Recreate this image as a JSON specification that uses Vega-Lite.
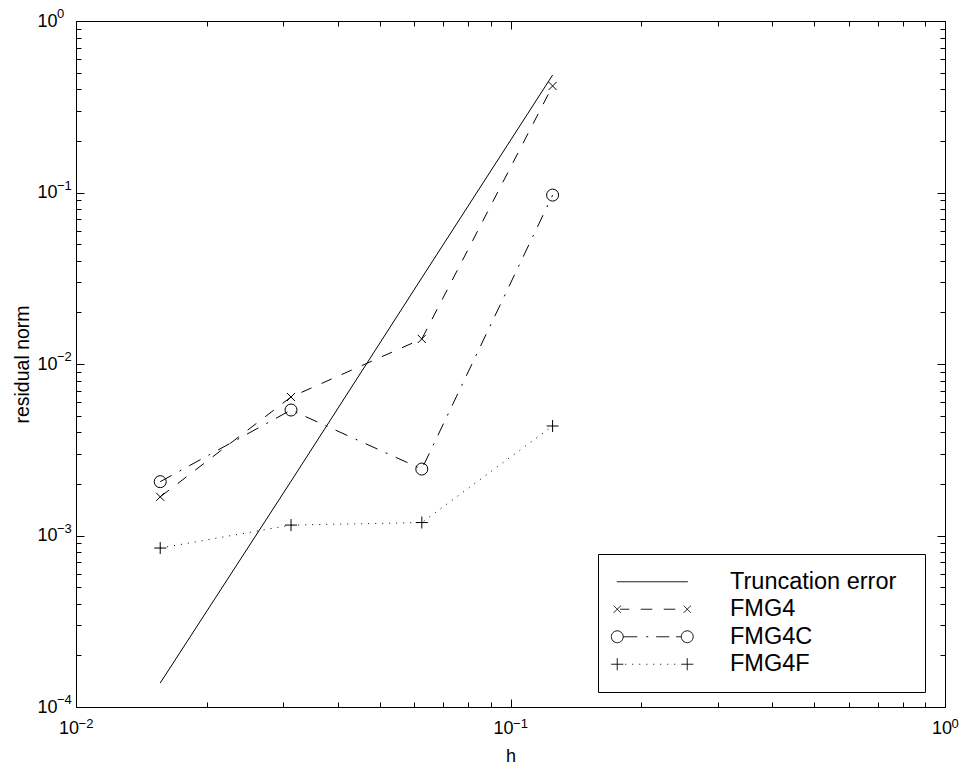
{
  "$schema": "https://vega.github.io/schema/vega-lite/v6.json",
  "width": 869,
  "height": 686,
  "autosize": {"type": "none"},
  "padding": {"left": 76, "top": 21, "right": 18, "bottom": 60},
  "background": "white",
  "config": {
    "font": "Liberation Sans",
    "view": {"stroke": "black", "strokeWidth": 1},
    "axis": {
      "domain": false,
      "grid": false,
      "tickColor": "black",
      "tickWidth": 1,
      "labelColor": "black",
      "titleColor": "black",
      "labelFontSize": 18,
      "titleFontSize": 18,
      "titleFontWeight": "normal",
      "labelFont": "Liberation Sans",
      "titleFont": "Liberation Sans",
      "labelOverlap": false,
      "labelFlush": false,
      "labelBound": false
    }
  },
  "datasets": {
    "xexp": [
      {"v": 0.01, "e": "−2"},
      {"v": 0.1, "e": "−1"},
      {"v": 1, "e": "0"}
    ],
    "yexp": [
      {"v": 0.0001, "e": "−4"},
      {"v": 0.001, "e": "−3"},
      {"v": 0.01, "e": "−2"},
      {"v": 0.1, "e": "−1"},
      {"v": 1, "e": "0"}
    ]
  },
  "data": {
    "values": [
      {"series": "Truncation error", "h": 0.015625, "r": 0.000138},
      {"series": "Truncation error", "h": 0.03125, "r": 0.00207},
      {"series": "Truncation error", "h": 0.0625, "r": 0.0318},
      {"series": "Truncation error", "h": 0.125, "r": 0.484},
      {"series": "FMG4", "h": 0.015625, "r": 0.00168},
      {"series": "FMG4", "h": 0.03125, "r": 0.00642},
      {"series": "FMG4", "h": 0.0625, "r": 0.0140},
      {"series": "FMG4", "h": 0.125, "r": 0.418},
      {"series": "FMG4C", "h": 0.015625, "r": 0.00206},
      {"series": "FMG4C", "h": 0.03125, "r": 0.00539},
      {"series": "FMG4C", "h": 0.0625, "r": 0.00244},
      {"series": "FMG4C", "h": 0.125, "r": 0.0966},
      {"series": "FMG4F", "h": 0.015625, "r": 0.000845},
      {"series": "FMG4F", "h": 0.03125, "r": 0.00115},
      {"series": "FMG4F", "h": 0.0625, "r": 0.00119},
      {"series": "FMG4F", "h": 0.125, "r": 0.00435}
    ]
  },
  "layer": [
    {
      "transform": [{"filter": "datum.series === 'Truncation error'"}],
      "mark": {"type": "line", "strokeWidth": 1},
      "encoding": {
        "x": {
          "field": "h", "type": "quantitative",
          "scale": {"type": "log", "domain": [0.01, 1], "nice": false},
          "axis": {
            "orient": "bottom",
            "title": "h",
            "values": [0.01,0.02,0.03,0.04,0.05,0.06,0.07,0.08,0.09,0.1,0.2,0.3,0.4,0.5,0.6,0.7,0.8,0.9,1],
            "labelExpr": "abs(log(datum.value)/LN10 - round(log(datum.value)/LN10)) < 0.000001 ? '10' : ''",
            "tickSize": {"condition": {"test": "abs(log(datum.value)/LN10 - round(log(datum.value)/LN10)) < 0.000001", "value": -8}, "value": -5},
            "labelAlign": "right",
            "labelOffset": {"condition": {"test": "datum.value == 1", "value": 6.5}, "value": 2.5},
            "labelPadding": 20,
            "titlePadding": 7
          }
        },
        "y": {
          "field": "r", "type": "quantitative",
          "scale": {"type": "log", "domain": [0.0001, 1], "nice": false},
          "axis": {
            "orient": "left",
            "title": "residual norm",
            "titleFontSize": 19.5,
            "values": [0.0001,0.0002,0.0003,0.0004,0.0005,0.0006,0.0007,0.0008,0.0009,0.001,0.002,0.003,0.004,0.005,0.006,0.007,0.008,0.009,0.01,0.02,0.03,0.04,0.05,0.06,0.07,0.08,0.09,0.1,0.2,0.3,0.4,0.5,0.6,0.7,0.8,0.9,1],
            "labelExpr": "abs(log(datum.value)/LN10 - round(log(datum.value)/LN10)) < 0.000001 ? '10' : ''",
            "tickSize": {"condition": {"test": "abs(log(datum.value)/LN10 - round(log(datum.value)/LN10)) < 0.000001", "value": -8}, "value": -5},
            "labelAlign": "left",
            "labelPadding": 47,
            "titlePadding": 2
          }
        },
        "color": {
          "field": "series", "type": "nominal",
          "scale": {
            "domain": ["Truncation error", "FMG4", "FMG4C", "FMG4F"],
            "range": ["black", "black", "black", "black"]
          },
          "legend": {
            "title": null,
            "orient": "none",
            "legendX": 522,
            "legendY": 533,
            "padding": 16,
            "strokeColor": "black",
            "fillColor": "white",
            "cornerRadius": 0,
            "labelFontSize": 23.5,
            "labelFont": "Liberation Sans",
            "labelColor": "black",
            "labelLimit": 500,
            "labelExpr": "datum.label + '\u2002\u200b'",
            "rowPadding": 2.5,
            "symbolOffset": 26.5,
            "labelOffset": 66,
            "symbolSize": 4,
            "symbolStrokeColor": "black",
            "symbolStrokeWidth": 1,
            "symbolFillColor": "transparent",
            "symbolDash": [1, 0],
            "encode": {
              "symbols": {
                "update": {
                  "shape": {"signal": "datum.value === 'Truncation error' ? 'M-35.5,0L35.5,0' : datum.value === 'FMG4' ? 'M-38.5,-3.5L-31.5,3.5M-38.5,3.5L-31.5,-3.5M-32,0L-23,0M-11.5,0L0,0M11.5,0L23,0M31.5,-3.5L38.5,3.5M31.5,3.5L38.5,-3.5' : datum.value === 'FMG4C' ? 'M-29,0L-29.46,2.3L-30.76,4.24L-32.7,5.54L-35,6L-37.3,5.54L-39.24,4.24L-40.54,2.3L-41,0L-40.54,-2.3L-39.24,-4.24L-37.3,-5.54L-35,-6L-32.7,-5.54L-30.76,-4.24L-29.46,-2.3Z M-29,0L-15,0M-6,0L-4,0M4,0L17,0M24,0L29,0M41,0L40.54,2.3L39.24,4.24L37.3,5.54L35,6L32.7,5.54L30.76,4.24L29.46,2.3L29,0L29.46,-2.3L30.76,-4.24L32.7,-5.54L35,-6L37.3,-5.54L39.24,-4.24L40.54,-2.3Z' : 'M-41,0L-29,0M-35,-6L-35,6M29,0L41,0M35,-6L35,6M-27,0L-26,0M-20,0L-19,0M-13,0L-12,0M-6,0L-5,0M1,0L2,0M8,0L9,0M15,0L16,0M22,0L23,0'"},
                  "size": {"value": 4},
                  "stroke": {"value": "black"},
                  "fill": {"value": "transparent"},
                  "strokeWidth": {"value": 1},
                  "opacity": {"value": 1}
                }
              }
            }
          }
        }
      }
    },
    {
      "transform": [{"filter": "datum.series === 'FMG4'"}],
      "mark": {"type": "line", "color": "black", "strokeWidth": 1, "strokeDash": [11, 11]},
      "encoding": {
        "x": {"field": "h", "type": "quantitative", "axis": null},
        "y": {"field": "r", "type": "quantitative", "axis": null}
      }
    },
    {
      "transform": [{"filter": "datum.series === 'FMG4C'"}],
      "mark": {"type": "line", "color": "black", "strokeWidth": 1, "strokeDash": [13, 9, 2, 9]},
      "encoding": {
        "x": {"field": "h", "type": "quantitative", "axis": null},
        "y": {"field": "r", "type": "quantitative", "axis": null}
      }
    },
    {
      "transform": [{"filter": "datum.series === 'FMG4F'"}],
      "mark": {"type": "line", "color": "black", "strokeWidth": 1, "strokeDash": [1, 6]},
      "encoding": {
        "x": {"field": "h", "type": "quantitative", "axis": null},
        "y": {"field": "r", "type": "quantitative", "axis": null}
      }
    },
    {
      "transform": [{"filter": "datum.series !== 'Truncation error'"}],
      "mark": {"type": "point", "filled": false, "color": "black", "size": 144, "strokeWidth": 1, "opacity": 1},
      "encoding": {
        "x": {
          "field": "h", "type": "quantitative",
          "scale": {"type": "log", "domain": [0.01, 1], "nice": false},
          "axis": {
            "orient": "top",
            "title": null,
            "labels": false,
            "values": [0.01,0.02,0.03,0.04,0.05,0.06,0.07,0.08,0.09,0.1,0.2,0.3,0.4,0.5,0.6,0.7,0.8,0.9,1],
            "tickSize": {"condition": {"test": "abs(log(datum.value)/LN10 - round(log(datum.value)/LN10)) < 0.000001", "value": -8}, "value": -5}
          }
        },
        "y": {
          "field": "r", "type": "quantitative",
          "scale": {"type": "log", "domain": [0.0001, 1], "nice": false},
          "axis": {
            "orient": "right",
            "title": null,
            "labels": false,
            "values": [0.0001,0.0002,0.0003,0.0004,0.0005,0.0006,0.0007,0.0008,0.0009,0.001,0.002,0.003,0.004,0.005,0.006,0.007,0.008,0.009,0.01,0.02,0.03,0.04,0.05,0.06,0.07,0.08,0.09,0.1,0.2,0.3,0.4,0.5,0.6,0.7,0.8,0.9,1],
            "tickSize": {"condition": {"test": "abs(log(datum.value)/LN10 - round(log(datum.value)/LN10)) < 0.000001", "value": -8}, "value": -5}
          }
        },
        "shape": {
          "field": "series", "type": "nominal",
          "scale": {
            "domain": ["FMG4", "FMG4C", "FMG4F"],
            "range": ["M-0.67,-0.67L0.67,0.67M-0.67,0.67L0.67,-0.67", "circle", "M-1,0L1,0M0,-1L0,1"]
          },
          "legend": null
        }
      }
    },
    {
      "data": {"name": "xexp"},
      "mark": {"type": "text", "align": "center", "baseline": "middle", "dx": 10, "dy": 16.5, "fontSize": 13, "font": "Liberation Sans", "color": "black"},
      "encoding": {
        "x": {"field": "v", "type": "quantitative", "axis": null},
        "y": {"datum": 0.0001, "type": "quantitative", "axis": null},
        "text": {"field": "e", "type": "nominal"}
      }
    },
    {
      "data": {"name": "yexp"},
      "mark": {"type": "text", "align": "left", "baseline": "middle", "dx": -19, "dy": -7, "fontSize": 13, "font": "Liberation Sans", "color": "black"},
      "encoding": {
        "x": {"datum": 0.01, "type": "quantitative", "axis": null},
        "y": {"field": "v", "type": "quantitative", "axis": null},
        "text": {"field": "e", "type": "nominal"}
      }
    }
  ],
  "resolve": {"axis": {"x": "independent", "y": "independent"}}
}
